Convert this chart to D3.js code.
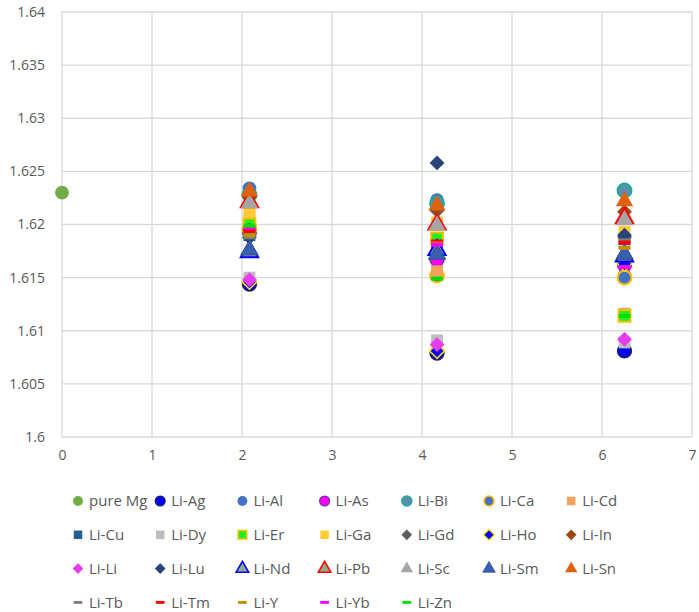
<!DOCTYPE html>
<html>
<head>
<meta charset="utf-8">
<script src="https://cdn.jsdelivr.net/npm/d3@7"></script>
<style>
  body { margin: 0; background: #fff; }
  text { font-family: "Open Sans", "Liberation Sans", sans-serif; }
</style>
</head>
<body>
<div id="chart"></div>
<script>
// Li concentration (x) for each doped cluster
const liConc = [2.083, 4.167, 6.25];
const pureMgX = [0];
const pureMgY = [1.623];

// y values per series, at liConc[0..2]
const liAg = [1.6144, 1.6079, 1.6081];
const liAl = [1.6234, 1.6223, 1.6152];
const liAs = [1.6193, 1.6167, 1.6162];
const liBi = [1.6228, 1.6220, 1.6232];
const liCa = [1.6196, 1.6152, 1.6150];
const liCd = [1.6208, 1.6156, 1.6116];
const liCu = [1.6190, 1.6174, 1.6186];
const liDy = [1.6150, 1.6091, 1.6089];
const liEr = [1.6200, 1.6187, 1.6114];
const liGa = [1.6212, 1.6202, 1.6193];
const liGd = [1.6195, 1.6213, 1.6188];
const liHo = [1.6146, 1.6081, 1.6163];
const liIn = [1.6226, 1.6215, 1.6212];
const liLi = [1.6148, 1.6087, 1.6092];
const liLu = [1.6188, 1.6258, 1.6190];
const liNd = [1.6174, 1.6176, 1.6170];
const liPb = [1.6221, 1.6200, 1.6206];
const liSc = [1.6220, 1.6199, 1.6204];
const liSm = [1.6176, 1.6172, 1.6172];
const liSn = [1.6231, 1.6218, 1.6222];
const liTb = [1.6188, 1.6183, 1.6185];
const liTm = [1.6194, 1.6184, 1.6183];
const liY  = [1.6190, 1.6182, 1.6178];
const liYb = [1.6197, 1.6181, 1.6160];
const liZn = [1.6199, 1.6149, 1.6114];

const xTicks = [0, 1, 2, 3, 4, 5, 6, 7];
const yTicks = [1.6, 1.605, 1.61, 1.615, 1.62, 1.625, 1.63, 1.635, 1.64];

// series list: name, x, y, marker style
const series = [
  { name: 'pure Mg', x: pureMgX, y: pureMgY, shape: 'circle', fill: '#70AD47' },
  { name: 'Li-Ag', x: liConc, y: liAg, shape: 'circle', fill: '#0000FF', stroke: '#1F1F60', sw: 1.5 },
  { name: 'Li-Al', x: liConc, y: liAl, shape: 'circle', fill: '#4472C4' },
  { name: 'Li-As', x: liConc, y: liAs, shape: 'circle', fill: '#FF00FF', stroke: '#7030A0', sw: 1.5 },
  { name: 'Li-Bi', x: liConc, y: liBi, shape: 'circle', fill: '#5B8FB0', stroke: '#1FA896', sw: 2 },
  { name: 'Li-Ca', x: liConc, y: liCa, shape: 'circle', fill: '#4472C4', stroke: '#FFC000', sw: 2 },
  { name: 'Li-Cd', x: liConc, y: liCd, shape: 'square', fill: '#F4A15F' },
  { name: 'Li-Cu', x: liConc, y: liCu, shape: 'square', fill: '#255E91' },
  { name: 'Li-Dy', x: liConc, y: liDy, shape: 'square', fill: '#BDBDBD' },
  { name: 'Li-Er', x: liConc, y: liEr, shape: 'square', fill: '#22EE22', stroke: '#FFC000', sw: 2 },
  { name: 'Li-Ga', x: liConc, y: liGa, shape: 'square', fill: '#FFCC33' },
  { name: 'Li-Gd', x: liConc, y: liGd, shape: 'diamond', fill: '#5E5E5E' },
  { name: 'Li-Ho', x: liConc, y: liHo, shape: 'diamond', fill: '#0000FF', stroke: '#FFE000', sw: 1.5 },
  { name: 'Li-In', x: liConc, y: liIn, shape: 'diamond', fill: '#9E480E' },
  { name: 'Li-Li', x: liConc, y: liLi, shape: 'diamond', fill: '#E83CF0' },
  { name: 'Li-Lu', x: liConc, y: liLu, shape: 'diamond', fill: '#264478' },
  { name: 'Li-Nd', x: liConc, y: liNd, shape: 'triangle', fill: '#8FAA8C', stroke: '#0000FF', sw: 2 },
  { name: 'Li-Pb', x: liConc, y: liPb, shape: 'triangle', fill: '#8FAA8C', stroke: '#FF0000', sw: 2 },
  { name: 'Li-Sc', x: liConc, y: liSc, shape: 'triangle', fill: '#A5A5A5' },
  { name: 'Li-Sm', x: liConc, y: liSm, shape: 'triangle', fill: '#3A5FB0', stroke: '#2F4E9A', sw: 1 },
  { name: 'Li-Sn', x: liConc, y: liSn, shape: 'triangle', fill: '#E0620E' },
  { name: 'Li-Tb', x: liConc, y: liTb, shape: 'dash', fill: '#7F7F7F' },
  { name: 'Li-Tm', x: liConc, y: liTm, shape: 'dash', fill: '#FF0000' },
  { name: 'Li-Y',  x: liConc, y: liY,  shape: 'dash', fill: '#BF9000' },
  { name: 'Li-Yb', x: liConc, y: liYb, shape: 'dash', fill: '#FF00FF' },
  { name: 'Li-Zn', x: liConc, y: liZn, shape: 'dash', fill: '#00E000' }
];

const W = 699, H = 612;
const margin = { top: 12, right: 7, bottom: 175, left: 62 };
const width = W - margin.left - margin.right;
const height = H - margin.top - margin.bottom;

const svg = d3.select('#chart').append('svg')
  .attr('width', W).attr('height', H);

const g = svg.append('g')
  .attr('transform', `translate(${margin.left},${margin.top})`);

const xScale = d3.scaleLinear().domain([0, 7]).range([0, width]);
const yScale = d3.scaleLinear().domain([1.6, 1.64]).range([height, 0]);

// grid lines
g.append('g').selectAll('line').data(yTicks).enter().append('line')
  .attr('x1', 0).attr('x2', width)
  .attr('y1', d => yScale(d)).attr('y2', d => yScale(d))
  .attr('stroke', '#D9D9D9').attr('stroke-width', 1.3);
g.append('g').selectAll('line').data(xTicks).enter().append('line')
  .attr('x1', d => xScale(d)).attr('x2', d => xScale(d))
  .attr('y1', 0).attr('y2', height)
  .attr('stroke', '#D9D9D9').attr('stroke-width', 1.3);

// axes (labels only)
const yAxis = g.append('g')
  .call(d3.axisLeft(yScale).tickValues(yTicks).tickFormat(d3.format('~g')).tickSize(0).tickPadding(17));
const xAxis = g.append('g')
  .attr('transform', `translate(0,${height})`)
  .call(d3.axisBottom(xScale).tickValues(xTicks).tickFormat(d3.format('d')).tickSize(0).tickPadding(13));
[yAxis, xAxis].forEach(a => {
  a.select('.domain').remove();
  a.selectAll('text').attr('fill', '#595959').style('font-size', '14px')
    .style('font-family', '"Open Sans", "Liberation Sans", sans-serif');
});

// marker drawing helper
function drawMarker(sel, s, scale) {
  const k = scale || 1;
  let m;
  if (s.shape === 'dash') {
    m = sel.append('rect')
      .attr('x', -6 * k).attr('y', -2 * k)
      .attr('width', 12 * k).attr('height', 4 * k);
  } else {
    const sym = { circle: d3.symbolCircle, square: d3.symbolSquare, diamond: d3.symbolDiamond2, triangle: d3.symbolTriangle }[s.shape];
    const size = { circle: 150, square: 140, diamond: 140, triangle: 130 }[s.shape];
    m = sel.append('path').attr('d', d3.symbol().type(sym).size(size * k * k)());
  }
  m.attr('fill', s.fill)
    .attr('stroke', s.stroke || 'none')
    .attr('stroke-width', (s.sw || 0) * (k < 1 ? 0.8 : 1));
}

// points
series.forEach(s => {
  const pts = s.y.map((v, i) => ({ x: s.x[i], y: v }));
  g.append('g').selectAll('g').data(pts).enter().append('g')
    .attr('transform', d => `translate(${xScale(d.x)},${yScale(d.y)})`)
    .each(function () { drawMarker(d3.select(this), s, 1); });
});

// legend
const legend = svg.append('g');
const colW = 82.2, rowH = 33.8, x0 = 78, y0 = 501;
series.forEach((s, i) => {
  const col = i % 7, row = Math.floor(i / 7);
  const item = legend.append('g')
    .attr('transform', `translate(${x0 + col * colW},${y0 + row * rowH})`);
  drawMarker(item, s, 0.72);
  item.append('text')
    .attr('x', 11).attr('y', 0).attr('dy', '0.35em')
    .attr('fill', '#595959').style('font-size', '15px')
    .text(s.name);
});
</script>
</body>
</html>
